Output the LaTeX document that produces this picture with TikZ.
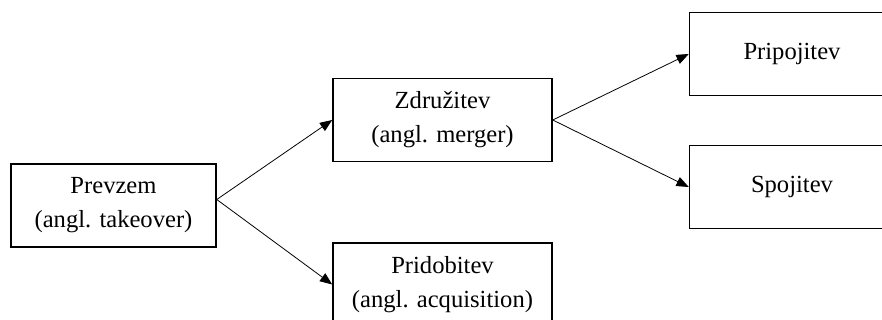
\documentclass[tikz,border=0pt]{standalone}
\usepackage{fontspec}
\setmainfont{Liberation Serif}
\usetikzlibrary{arrows.meta}
\tikzset{
  termbox/.style={draw,line width=0.9pt,minimum width=4.1cm,minimum height=1.66cm,align=center,font=\fontsize{14}{19.3}\selectfont,inner sep=2pt},
  link/.style={-{Triangle[length=7pt,width=5.5pt]},line width=0.45pt}
}

\begin{document}
\begin{tikzpicture}[x=0.02cm,y=-0.02cm]
\useasboundingbox (0,0) rectangle (882,320);
\clip (0,0) rectangle (882,320);
\node[termbox] (prevzem) at (113.5,205.5) {Prevzem\\(angl. takeover)};
\node[termbox,minimum width=4.38cm] (zdruzitev) at (442.5,120) {Združitev\\(angl. merger)};
\node[termbox,minimum width=4.38cm] (pridobitev) at (442.5,284.5) {Pridobitev\\(angl. acquisition)};
\node[termbox] (pripojitev) at (792,54) {Pripojitev};
\node[termbox] (spojitev) at (792,187) {Spojitev};
\draw[link] ([yshift=0.12cm]prevzem.east) -- (zdruzitev.west);
\draw[link] ([yshift=0.12cm]prevzem.east) -- (pridobitev.west);
\draw[link] (zdruzitev.east) -- (pripojitev.west);
\draw[link] (zdruzitev.east) -- (spojitev.west);
\end{tikzpicture}
\end{document}
